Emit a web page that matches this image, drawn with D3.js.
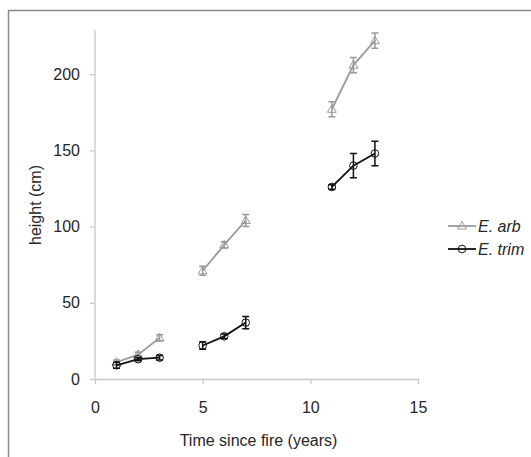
<!DOCTYPE html>
<html>
<head>
<meta charset="utf-8">
<style>
	html, body { margin: 0; padding: 0; background: #fff; }
	svg text { font-family: "Liberation Sans", Arial, sans-serif; fill: #262626; }
</style>
</head>
<body>
<script src="https://d3js.org/d3.v7.min.js"></script>
<script>
	// years since fire, three separate sites
	var years = [1, 2, 3, 5, 6, 7, 11, 12, 13];
	var segments = [[0, 3], [3, 6], [6, 9]];

	var arbMean = [11, 16, 27, 71, 88, 104, 177, 206, 222];
	var arbErr  = [1.5, 1.5, 2, 3, 2, 4, 5, 5, 5];
	var trimMean = [9, 13, 14, 22, 28, 37, 126, 140, 148];
	var trimErr  = [2, 1, 1.5, 2.5, 1.5, 4, 1.5, 8, 8];

	var xTicks = [0, 5, 10, 15];
	var yTicks = [0, 50, 100, 150, 200];

	var series = [
		{ name: "E. arb", mean: arbMean, err: arbErr, color: "#9a9a9a", shape: "tri" },
		{ name: "E. trim", mean: trimMean, err: trimErr, color: "#111", shape: "circ" }
	];

	var svg = d3.select("body").append("svg")
		.attr("width", 531)
		.attr("height", 457);

	// outer frame (runs off right/bottom edges)
	svg.append("path")
		.attr("d", "M8.5,470 V10.5 H545")
		.attr("fill", "none")
		.attr("stroke", "#8a8a8a")
		.attr("stroke-width", 1.5);

	var x = d3.scaleLinear().domain([0, 15]).range([95, 418]);
	var y = d3.scaleLinear().domain([0, 229]).range([379, 30]);

	var xAxis = svg.append("g")
		.attr("transform", "translate(0,379)")
		.call(d3.axisBottom(x).tickValues(xTicks).tickSize(5).tickPadding(18).tickSizeOuter(0));
	var yAxis = svg.append("g")
		.attr("transform", "translate(95,0)")
		.call(d3.axisLeft(y).tickValues(yTicks).tickSize(5).tickPadding(10).tickSizeOuter(0));

	[xAxis, yAxis].forEach(function(a) {
		a.select(".domain").attr("stroke", "#c8c8c8").attr("stroke-width", 1.3);
		a.selectAll(".tick line").attr("stroke", "#c8c8c8").attr("stroke-width", 1.3);
		a.selectAll(".tick text").attr("font-size", "16px").attr("fill", "#262626")
			.attr("font-family", "Liberation Sans, Arial, sans-serif");
	});
	// extend y domain line to the top
	yAxis.select(".domain").attr("d", "M0," + y(229) + "V" + y(0));

	svg.append("text")
		.attr("x", x(7.5) + 2)
		.attr("y", 446)
		.attr("text-anchor", "middle")
		.attr("font-size", "16px")
		.text("Time since fire (years)");

	svg.append("text")
		.attr("transform", "translate(41,205) rotate(-90)")
		.attr("text-anchor", "middle")
		.attr("font-size", "16px")
		.text("height (cm)");

	var line = d3.line()
		.x(function(d) { return x(d[0]); })
		.y(function(d) { return y(d[1]); });

	function drawMarker(g, shape, cx, cy, color) {
		if (shape == "tri") {
			g.append("path")
				.attr("d", d3.symbol().type(d3.symbolTriangle).size(34)())
				.attr("transform", "translate(" + cx + "," + (cy + 0.5) + ")")
				.attr("fill", "none")
				.attr("stroke", color)
				.attr("stroke-width", 1);
		} else {
			g.append("circle")
				.attr("cx", cx).attr("cy", cy).attr("r", 3.8)
				.attr("fill", "none")
				.attr("stroke", color)
				.attr("stroke-width", 1);
		}
	}

	series.forEach(function(s) {
		var g = svg.append("g");
		segments.forEach(function(seg) {
			var pts = [];
			for (var i = seg[0]; i < seg[1]; i++) pts.push([years[i], s.mean[i]]);
			g.append("path")
				.attr("d", line(pts))
				.attr("fill", "none")
				.attr("stroke", s.color)
				.attr("stroke-width", 1.8);
		});
		years.forEach(function(yr, i) {
			var cx = x(yr), lo = y(s.mean[i] - s.err[i]), hi = y(s.mean[i] + s.err[i]);
			g.append("path")
				.attr("d", "M" + cx + "," + lo + "V" + hi +
					"M" + (cx - 3.5) + "," + lo + "H" + (cx + 3.5) +
					"M" + (cx - 3.5) + "," + hi + "H" + (cx + 3.5))
				.attr("fill", "none")
				.attr("stroke", s.color)
				.attr("stroke-width", 1.5);
			drawMarker(g, s.shape, cx, y(s.mean[i]), s.color);
		});
	});

	// legend
	var legY = [226, 249];
	series.forEach(function(s, i) {
		var g = svg.append("g").attr("transform", "translate(448," + legY[i] + ")");
		g.append("line").attr("x1", 0).attr("x2", 28)
			.attr("stroke", s.color).attr("stroke-width", 1.8);
		drawMarker(g, s.shape, 14, 0, s.color);
		g.append("text")
			.attr("x", 30).attr("y", 6)
			.attr("font-size", "16px")
			.attr("font-style", "italic")
			.text(s.name);
	});
</script>
</body>
</html>
